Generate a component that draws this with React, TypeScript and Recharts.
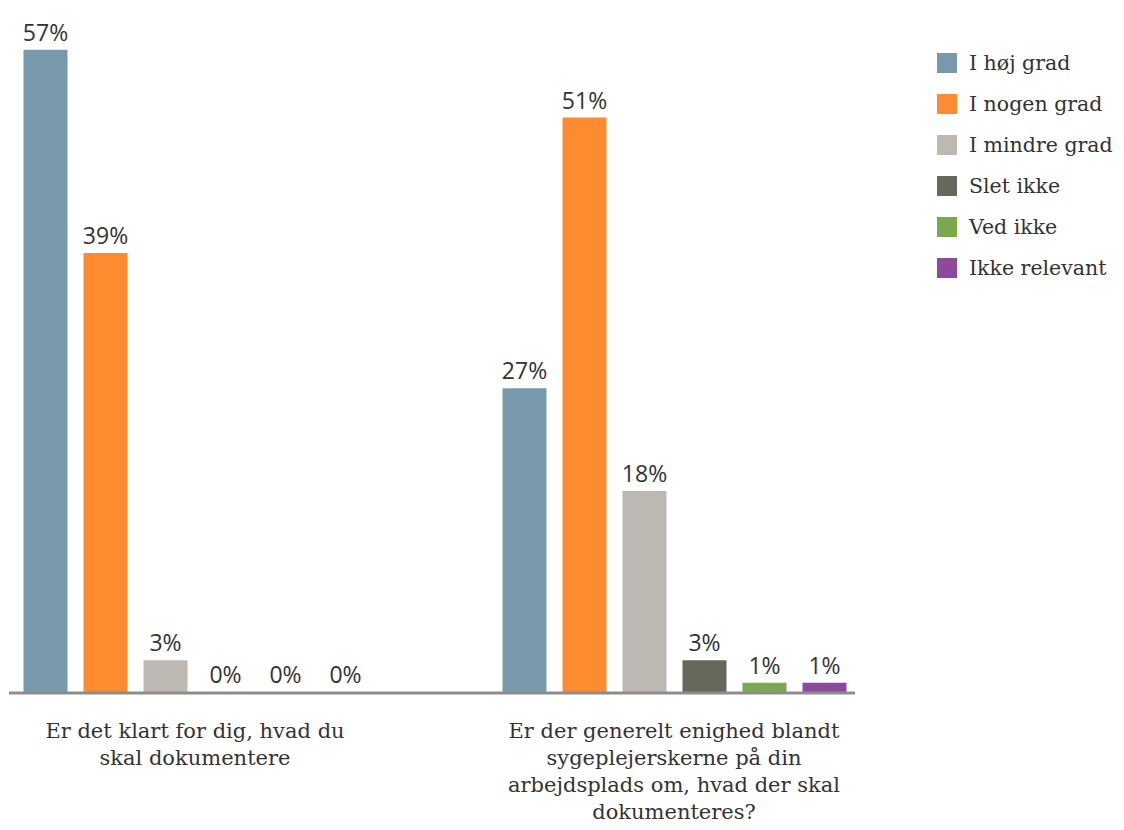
import { BarChart, Bar, XAxis, YAxis, LabelList } from "recharts";

const categories = ["q1", "q2"];
const tickLines = [
  ["Er det klart for dig, hvad du", "skal dokumentere"],
  [
    "Er der generelt enighed blandt",
    "sygeplejerskerne på din",
    "arbejdsplads om, hvad der skal",
    "dokumenteres?",
  ],
];
const seriesNames = [
  "I høj grad",
  "I nogen grad",
  "I mindre grad",
  "Slet ikke",
  "Ved ikke",
  "Ikke relevant",
];
const seriesColors = ["#7899ac", "#fd8b2f", "#bdb9b2", "#67675c", "#7aa84f", "#8b4a9c"];
const hojGrad = [57, 27];
const nogenGrad = [39, 51];
const mindreGrad = [2.9, 17.9];
const sletIkke = [0, 2.9];
const vedIkke = [0, 0.9];
const ikkeRelevant = [0, 0.9];

const allSeries = [hojGrad, nogenGrad, mindreGrad, sletIkke, vedIkke, ikkeRelevant];

const data = categories.map((c, i) => {
  const row: any = { name: c, idx: i };
  allSeries.forEach((s, k) => {
    row["s" + k] = s[i];
  });
  return row;
});

const serif = "'DejaVu Serif', serif";
const sans = "'Open Sans', 'Noto Sans', sans-serif";

function CategoryTick(props: any) {
  const { x, y, payload } = props;
  const lines = tickLines[payload.index] || [];
  return (
    <text
      x={x}
      y={y + 45}
      textAnchor="middle"
      fontFamily={serif}
      fontSize={21}
      fill="#333"
    >
      {lines.map((l, i) => (
        <tspan key={i} x={x} dy={i === 0 ? 0 : 27}>
          {l}
        </tspan>
      ))}
    </text>
  );
}

function App() {
  return (
    <div style={{ position: "relative", width: 1116, height: 822 }}>
      <BarChart
        width={1116}
        height={822}
        data={data}
        margin={{ top: 8, right: 269, left: 1, bottom: 17 }}
        barSize={44}
        barGap={16}
      >
        {seriesNames.map((n, k) => (
          <Bar
            key={n}
            dataKey={"s" + k}
            name={n}
            fill={seriesColors[k]}
            minPointSize={1}
            isAnimationActive={false}
          >
            <LabelList
              dataKey={"s" + k}
              position="top"
              offset={9}
              formatter={(v: any) => `${Math.round(Number(v))}%`}
              style={{ fontFamily: sans, fontSize: 23, fill: "#333" }}
            />
          </Bar>
        ))}
        <XAxis
          dataKey="name"
          height={120}
          padding={{ left: -53.5, right: -58.5 }}
          tickLine={false}
          tickSize={0}
          tickMargin={0}
          axisLine={{ stroke: "#8c8c8c", strokeWidth: 3 }}
          tick={<CategoryTick />}
          interval={0}
        />
        <YAxis hide domain={[0, 60]} />
      </BarChart>
      <div
        style={{
          position: "absolute",
          left: 929,
          top: 34,
          width: 187,
          fontFamily: serif,
          fontSize: 20.5,
          color: "#333",
          whiteSpace: "nowrap",
        }}
      >
        {seriesNames.map((n, k) => (
          <div
            key={n}
            style={{ display: "flex", alignItems: "center", height: 41 }}
          >
            <span
              style={{
                display: "inline-block",
                flex: "none",
                width: 20,
                height: 20,
                background: seriesColors[k],
                marginRight: 12,
              }}
            />
            <span>{n}</span>
          </div>
        ))}
      </div>
    </div>
  );
}

export default App;
